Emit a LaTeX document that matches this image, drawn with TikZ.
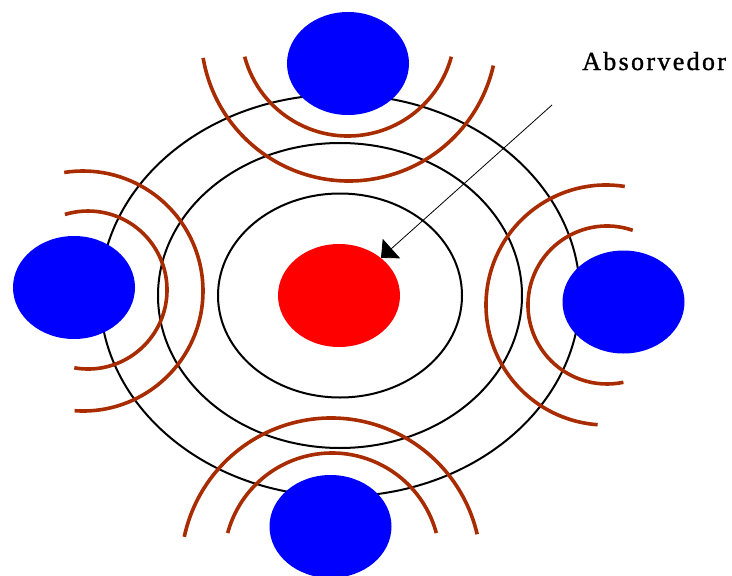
\documentclass[tikz,border=0pt]{standalone}
\usepackage{fontspec}
\newfontfamily\labelfont[LetterSpace=9,FakeBold=1.2]{Liberation Serif}
\usetikzlibrary{shapes.geometric,arrows.meta}
\definecolor{wave}{RGB}{168,44,0}
\definecolor{emit}{RGB}{0,0,255}
\definecolor{absorb}{RGB}{255,0,0}
\begin{document}
\begin{tikzpicture}[x=1pt,y=1pt,
  ring/.style={draw=black,line width=2pt},
  wavearc/.style={draw=wave,line width=3.6pt},
  blob/.style={ellipse,inner sep=0pt,minimum width=122pt,minimum height=103pt},
  emitter/.style={blob,fill=emit},
  absorber/.style={blob,fill=absorb},
  pointer/.style={draw=black,line width=0.8pt,-{Triangle[length=14pt,width=26pt]}},
  caption/.style={anchor=base west,inner sep=0pt,font=\labelfont\fontsize{26}{30}\selectfont}]
\useasboundingbox (0,0) rectangle (732,-576);
% concentric rings
\coordinate (ctr) at (340,-295.5);
\draw[ring] (ctr) ellipse [x radius=122, y radius=102];
\draw[ring] (ctr) ellipse [x radius=182, y radius=152.5];
\draw[ring] (ctr) ellipse [x radius=240, y radius=201];
% wave arcs
\draw[wavearc] ([shift={(195:107)}]348,-29) arc[start angle=195,end angle=345,radius=107];
\draw[wavearc] ([shift={(189.7:148)}]349,-33) arc[start angle=189.7,end angle=347.3,radius=148];
\draw[wavearc] ([shift={(15:108)}]332,-561) arc[start angle=15,end angle=165,radius=108];
\draw[wavearc] ([shift={(13:150)}]331,-568) arc[start angle=13,end angle=168,radius=150];
\draw[wavearc] ([shift={(-100:79)}]88,-290) arc[start angle=-100,end angle=107,radius=79];
\draw[wavearc] ([shift={(-94:120)}]83,-291) arc[start angle=-94,end angle=99,radius=120];
\draw[wavearc] ([shift={(71:79)}]607,-305) arc[start angle=71,end angle=282,radius=79];
\draw[wavearc] ([shift={(81:120)}]606,-305) arc[start angle=81,end angle=266,radius=120];
% emitters and absorber
\node[emitter] (top) at (348,-63.5) {};
\node[emitter] (left) at (74,-287.5) {};
\node[emitter] (right) at (623.5,-302) {};
\node[emitter] (bottom) at (330.5,-526.5) {};
\node[absorber] (abs) at (339,-295.5) {};
% label and pointer
\node[caption] (lbl) at (582,-70) {Absorvedor};
\coordinate (pstart) at (552,-105);
\draw[pointer] (pstart) -- (abs);
\end{tikzpicture}
\end{document}
